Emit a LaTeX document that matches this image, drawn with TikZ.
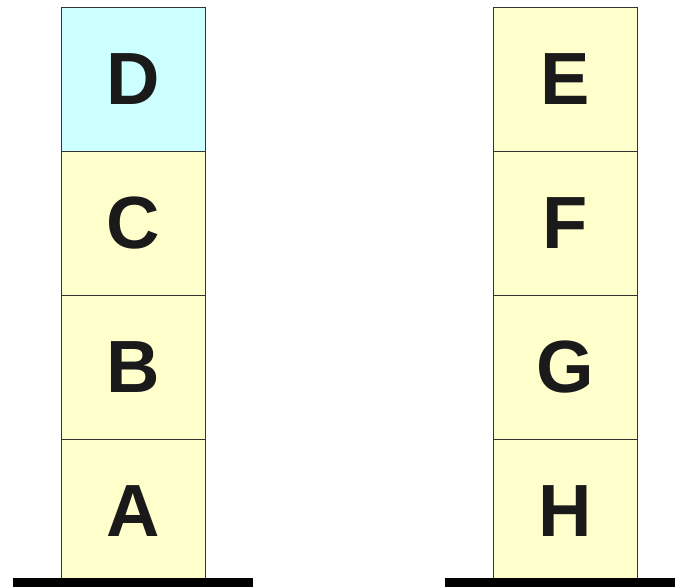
\documentclass[tikz,border=0pt]{standalone}
\usepackage{fontspec}
\setmainfont{Liberation Sans}
\usetikzlibrary{positioning}
\definecolor{blockyellow}{HTML}{FFFFCC}
\definecolor{blockcyan}{HTML}{CCFFFF}
\definecolor{blockedge}{HTML}{333333}
\definecolor{letterink}{HTML}{1A1A1A}

\begin{document}
\begin{tikzpicture}[
  x=1pt, y=-1pt,
  node distance=0pt,
  block/.style={
    rectangle,
    draw=blockedge,
    line width=1pt,
    fill=blockyellow,
    minimum width=144pt,
    minimum height=144pt,
    inner sep=0pt,
    outer sep=0pt,
    text=letterink,
    font=\fontsize{74}{80}\selectfont\bfseries
  },
  table/.style={
    rectangle,
    fill=black,
    minimum width=#1,
    minimum height=9.5pt,
    inner sep=0pt,
    outer sep=0pt
  }
]
\useasboundingbox (0,0) rectangle (675,587);

% --- LEFT STACK ----------------------------------------------------
\node[block] (A) at (133,511) {A};
\node[block, above=of A] (B) {B};
\node[block, above=of B] (C) {C};
\node[block, fill=blockcyan, above=of C] (D) {D};

% --- RIGHT STACK ---------------------------------------------------
\node[block] (H) at (565,511) {H};
\node[block, above=of H] (G) {G};
\node[block, above=of G] (F) {F};
\node[block, above=of F] (E) {E};

% --- TABLE ---------------------------------------------------------
\node[table=240pt] (left table) at (133,582.25) {};
\node[table=230pt] (right table) at (560,582.25) {};

\end{tikzpicture}
\end{document}
